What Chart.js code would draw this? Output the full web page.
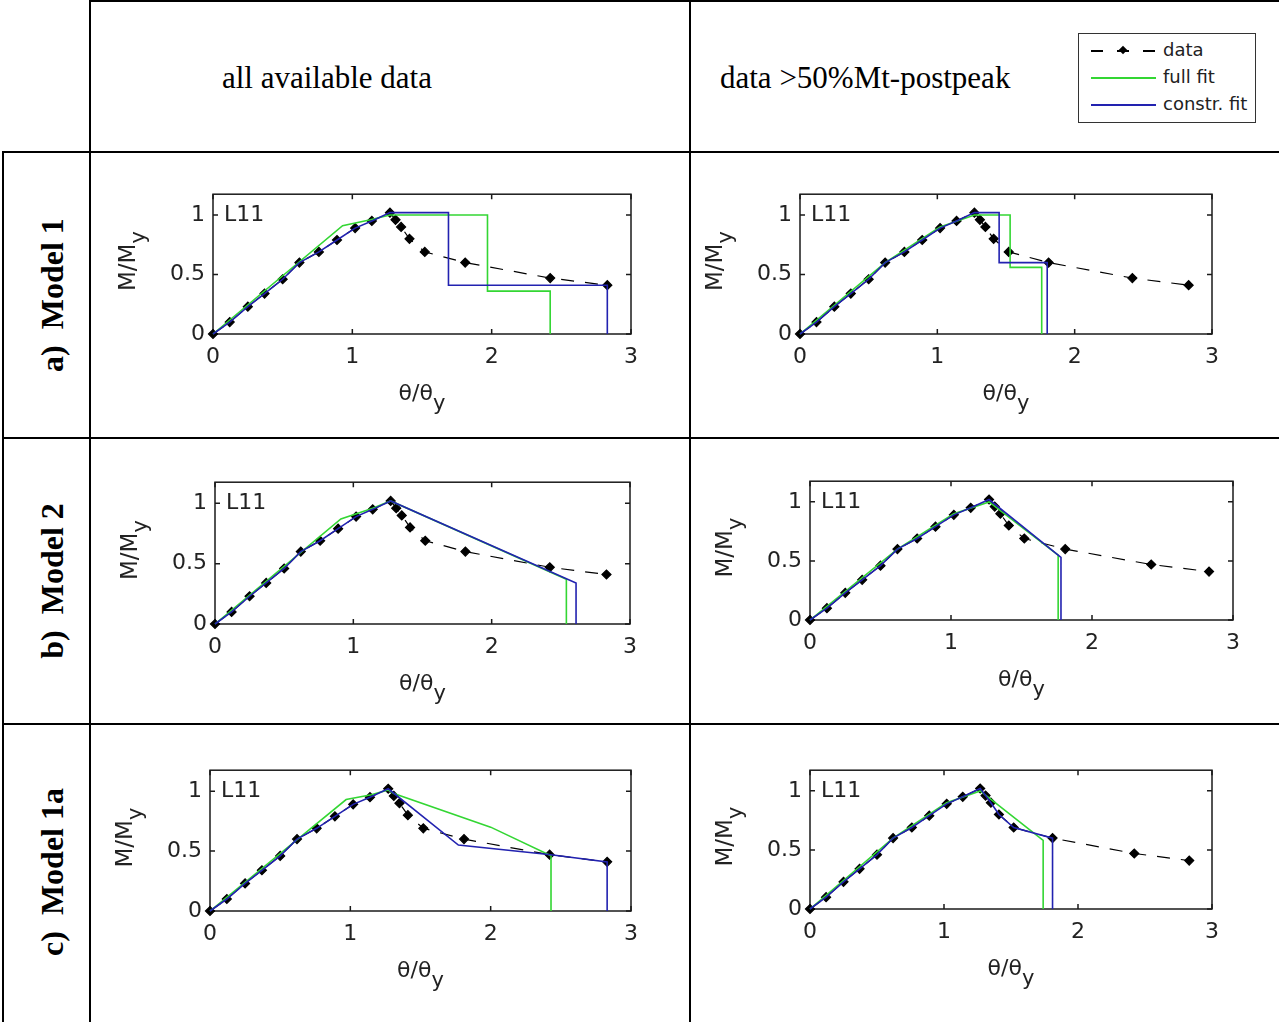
<!DOCTYPE html>
<html>
<head>
<meta charset="utf-8">
<script src="https://cdn.jsdelivr.net/npm/chart.js@4.4.0/dist/chart.umd.min.js"></script>
<style>
  body { margin: 0; width: 1279px; height: 1022px; position: relative; overflow: hidden; background: #fff; font-family: "Liberation Serif", "Times New Roman", serif; }
  .rule { position: absolute; background: #000; }
  .head { position: absolute; top: 62px; font-size: 31px; line-height: 31px; white-space: nowrap; color: #000; }
  .rowlab { position: absolute; left: 52px; font-size: 32px; font-weight: bold; white-space: pre; transform: translate(-50%, -50%) rotate(-90deg); }
  .legend { position: absolute; left: 1078px; top: 33px; width: 176px; height: 88px; border: 1.5px solid #333; font-family: "DejaVu Sans", sans-serif; font-size: 18px; color: #222; }
  .legend .item { position: absolute; left: 0; height: 20px; width: 176px; }
  .legend .sw { position: absolute; left: 12px; top: 9px; width: 65px; height: 1.5px; }
  .legend .txt { position: absolute; left: 84px; top: -2px; line-height: 22px; white-space: nowrap; }
  .legend .dia { position: absolute; left: 29px; top: -3px; width: 6px; height: 6px; background: #000; transform: rotate(45deg); }
</style>
</head>
<body>

<!-- table rules -->
<div class="rule" style="left:90px;top:0;width:1189px;height:2px"></div>
<div class="rule" style="left:89px;top:0;width:2px;height:1022px"></div>
<div class="rule" style="left:689px;top:0;width:2px;height:1022px"></div>
<div class="rule" style="left:2px;top:151px;width:1277px;height:2px"></div>
<div class="rule" style="left:2px;top:151px;width:2px;height:871px"></div>
<div class="rule" style="left:2px;top:437px;width:1277px;height:2px"></div>
<div class="rule" style="left:2px;top:723px;width:1277px;height:2px"></div>

<div class="head" style="left:222px">all available data</div>
<div class="head" style="left:720px">data &gt;50%Mt-postpeak</div>

<div class="rowlab" style="top:295px">a)  Model 1</div>
<div class="rowlab" style="top:581px">b)  Model 2</div>
<div class="rowlab" style="top:872px">c)  Model 1a</div>

<div class="legend">
  <div class="item" style="top:7px">
    <div class="sw" style="background:repeating-linear-gradient(90deg,#000 0 12px,transparent 12px 26px)"><div class="dia"></div></div>
    <div class="txt">data</div>
  </div>
  <div class="item" style="top:34px">
    <div class="sw" style="background:#33d633"></div>
    <div class="txt">full fit</div>
  </div>
  <div class="item" style="top:61px">
    <div class="sw" style="background:#2222b0"></div>
    <div class="txt">constr. fit</div>
  </div>
</div>

<script>
'use strict';

// measured response of specimen L11 (normalised)
const dataTheta  = [0, 0.12, 0.25, 0.37, 0.50, 0.62, 0.76, 0.89, 1.02, 1.14, 1.27, 1.31, 1.35, 1.41, 1.52, 1.81, 2.42, 2.83];
const dataMoment = [0, 0.10, 0.23, 0.34, 0.46, 0.60, 0.69, 0.79, 0.89, 0.95, 1.02, 0.96, 0.90, 0.80, 0.69, 0.60, 0.47, 0.41];

const xTicks = [0, 1, 2, 3];
const yTicks = [0, 0.5, 1];
const specimen = 'L11';

// constrained fits follow the test data up to the peak
const riseX = [0, 0.12, 0.25, 0.37, 0.50, 0.62, 0.76, 0.89, 1.02, 1.14, 1.27];
const riseY = [0, 0.10, 0.23, 0.34, 0.46, 0.60, 0.69, 0.79, 0.89, 0.95, 1.02];

// a) Model 1
const m1AllFullX = [0, 0.93, 1.13, 1.27, 1.97, 1.97, 2.42, 2.42];
const m1AllFullY = [0, 0.91, 0.96, 1.00, 1.00, 0.36, 0.36, 0];
const m1AllConX = [...riseX, 1.69, 1.69, 2.83, 2.83];
const m1AllConY = [...riseY, 1.02, 0.41, 0.41, 0];
const m1HalfFullX = [0, 0.62, 1.02, 1.27, 1.53, 1.53, 1.76, 1.76];
const m1HalfFullY = [0, 0.60, 0.90, 1.00, 1.00, 0.56, 0.56, 0];
const m1HalfConX = [...riseX, 1.45, 1.45, 1.80, 1.80];
const m1HalfConY = [...riseY, 1.02, 0.60, 0.60, 0];

// b) Model 2
const m2AllFullX = [0, 0.91, 1.14, 1.27, 2.54, 2.54];
const m2AllFullY = [0, 0.87, 0.96, 1.02, 0.37, 0];
const m2AllConX = [...riseX, 2.61, 2.61];
const m2AllConY = [...riseY, 0.34, 0];
const m2HalfFullX = [0, 0.62, 1.02, 1.27, 1.76, 1.76];
const m2HalfFullY = [0, 0.60, 0.90, 1.00, 0.55, 0];
const m2HalfConX = [...riseX, 1.78, 1.78];
const m2HalfConY = [...riseY, 0.53, 0];

// c) Model 1a
const m1aAllFullX = [0, 0.97, 1.15, 1.27, 1.31, 2.00, 2.43, 2.43];
const m1aAllFullY = [0, 0.93, 0.97, 1.01, 0.98, 0.70, 0.46, 0];
const m1aAllConX = [...riseX, 1.77, 2.43, 2.83, 2.83];
const m1aAllConY = [...riseY, 0.55, 0.47, 0.41, 0];
const m1aHalfFullX = [0, 0.62, 1.02, 1.27, 1.74, 1.74];
const m1aHalfFullY = [0, 0.60, 0.90, 1.00, 0.58, 0];
const m1aHalfConX = [...riseX, 1.31, 1.35, 1.41, 1.52, 1.81, 1.81];
const m1aHalfConY = [...riseY, 0.96, 0.90, 0.80, 0.69, 0.60, 0];

const GREEN = '#33d633';
const BLUE = '#2222b0';
const TXT = '#222';

// plot boxes on the page: left, top, right, bottom
const panels = [
  { box: [213, 193, 631, 334], full: [m1AllFullX, m1AllFullY], con: [m1AllConX, m1AllConY] },
  { box: [800, 193, 1212, 334], full: [m1HalfFullX, m1HalfFullY], con: [m1HalfConX, m1HalfConY] },
  { box: [215, 481, 630, 624], full: [m2AllFullX, m2AllFullY], con: [m2AllConX, m2AllConY] },
  { box: [810, 480, 1233, 620], full: [m2HalfFullX, m2HalfFullY], con: [m2HalfConX, m2HalfConY] },
  { box: [210, 769, 631, 911], full: [m1aAllFullX, m1aAllFullY], con: [m1aAllConX, m1aAllConY] },
  { box: [810, 769, 1212, 909], full: [m1aHalfFullX, m1aHalfFullY], con: [m1aHalfConX, m1aHalfConY] },
];

function toXY(xs, ys) {
  return xs.map((v, i) => ({ x: v, y: ys[i] }));
}

// matlab style box with inward ticks, axis titles with subscripts
const matlabFrame = {
  id: 'matlabFrame',
  beforeDatasetsDraw(chart) {
    const { ctx, chartArea: a, scales: { x, y } } = chart;
    ctx.save();
    ctx.strokeStyle = '#1a1a1a';
    ctx.lineWidth = 1.5;
    ctx.strokeRect(a.left, a.top, a.width, a.height);
    ctx.beginPath();
    xTicks.forEach(v => {
      const px = x.getPixelForValue(v);
      ctx.moveTo(px, a.bottom); ctx.lineTo(px, a.bottom - 5);
      ctx.moveTo(px, a.top); ctx.lineTo(px, a.top + 5);
    });
    yTicks.forEach(v => {
      const py = y.getPixelForValue(v);
      ctx.moveTo(a.left, py); ctx.lineTo(a.left + 5, py);
      ctx.moveTo(a.right, py); ctx.lineTo(a.right - 5, py);
    });
    ctx.stroke();

    ctx.fillStyle = TXT;
    ctx.font = '22px "DejaVu Sans"';
    ctx.textBaseline = 'middle';
    ctx.textAlign = 'left';
    ctx.fillText(specimen, a.left + 11, y.getPixelForValue(1));

    // x title
    ctx.textBaseline = 'alphabetic';
    ctx.font = '22px "DejaVu Sans"';
    const xMain = '\u03b8/\u03b8';
    const wMain = ctx.measureText(xMain).width;
    ctx.font = '21px "DejaVu Sans"';
    const wSub = ctx.measureText('y').width;
    let sx = (a.left + a.right) / 2 - (wMain + wSub) / 2;
    const base = a.bottom + 66;
    ctx.font = '22px "DejaVu Sans"';
    ctx.fillText(xMain, sx, base);
    ctx.font = '21px "DejaVu Sans"';
    ctx.fillText('y', sx + wMain, base + 10);

    // y title
    ctx.translate(a.left - 78, (a.top + a.bottom) / 2 - 3);
    ctx.rotate(-Math.PI / 2);
    ctx.font = '23px "DejaVu Sans"';
    const yMain = 'M/M';
    const wy = ctx.measureText(yMain).width;
    sx = -(wy + wSub) / 2;
    ctx.fillText(yMain, sx, 0);
    ctx.font = '21px "DejaVu Sans"';
    ctx.fillText('y', sx + wy, 10);
    ctx.restore();
  }
};

const tickFont = { family: 'DejaVu Sans', size: 22 };

panels.forEach(p => {
  const [L, T, R, B] = p.box;
  const canvas = document.createElement('canvas');
  canvas.width = R - L + 130;
  canvas.height = B - T + 100;
  canvas.style.position = 'absolute';
  canvas.style.left = (L - 100) + 'px';
  canvas.style.top = (T - 20) + 'px';
  document.body.appendChild(canvas);

  new Chart(canvas, {
    type: 'scatter',
    data: {
      datasets: [
        {
          label: 'constr. fit',
          data: toXY(p.con[0], p.con[1]),
          showLine: true,
          borderColor: BLUE,
          borderWidth: 1.6,
          pointRadius: 0,
          order: 0,
          clip: false,
        },
        {
          label: 'full fit',
          data: toXY(p.full[0], p.full[1]),
          showLine: true,
          borderColor: GREEN,
          borderWidth: 1.6,
          pointRadius: 0,
          order: 1,
          clip: false,
        },
        {
          label: 'data',
          data: toXY(dataTheta, dataMoment),
          showLine: true,
          borderColor: '#000',
          borderWidth: 1.2,
          borderDash: [13, 11],
          pointStyle: 'rectRot',
          pointRadius: 4.5,
          pointBackgroundColor: '#000',
          pointBorderColor: '#000',
          order: 2,
          clip: false,
        },
      ],
    },
    options: {
      responsive: false,
      animation: false,
      events: [],
      layout: { padding: { top: 20, right: 30, left: 0, bottom: 0 } },
      plugins: { legend: { display: false }, tooltip: { enabled: false } },
      scales: {
        x: {
          type: 'linear',
          min: 0,
          max: 3,
          afterFit: s => { s.height = 80; },
          afterBuildTicks: s => { s.ticks = xTicks.map(v => ({ value: v })); },
          grid: { display: false, drawTicks: false },
          border: { display: false },
          ticks: { font: tickFont, color: TXT, padding: 10, maxRotation: 0, callback: v => String(v) },
        },
        y: {
          type: 'linear',
          min: 0,
          max: 1.175,
          afterFit: s => { s.width = 100; },
          afterBuildTicks: s => { s.ticks = yTicks.map(v => ({ value: v })); },
          grid: { display: false, drawTicks: false },
          border: { display: false },
          ticks: { font: tickFont, color: TXT, padding: 8, callback: v => String(v) },
        },
      },
    },
    plugins: [matlabFrame],
  });
});
</script>
</body>
</html>
